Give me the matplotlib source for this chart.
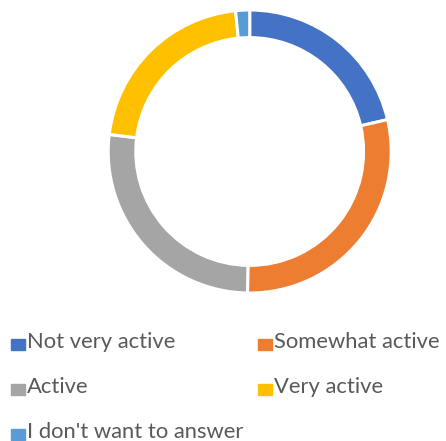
import matplotlib
matplotlib.use("Agg")
import matplotlib.pyplot as plt
from matplotlib.patches import Rectangle

categories = ["Not very active", "Somewhat active", "Active", "Very active",
              "I don't want to answer"]
shares = [21.4, 28.9, 26.7, 21.5, 1.6]
colors = ["#4472C4", "#ED7D31", "#A5A5A5", "#FFC000", "#5B9BD5"]

W, H = 446, 441
fig = plt.figure(figsize=(W / 100, H / 100), dpi=100)

# donut ring
cx, cy, r = 249.7, 151.5, 141.5
ax = fig.add_axes([(cx - r) / W, (H - cy - r) / H, 2 * r / W, 2 * r / H])
ax.pie(shares, colors=colors, startangle=90, counterclock=False, radius=1,
       wedgeprops=dict(width=0.195, edgecolor="white", linewidth=2.2))
ax.set_xlim(-1, 1)
ax.set_ylim(-1, 1)
ax.set_aspect("equal")
ax.axis("off")

# legend laid out in two columns, row by row
col_x = [11, 258]
baselines = [348, 393, 438]
for i, (lab, col) in enumerate(zip(categories, colors)):
    row, c = divmod(i, 2)
    x0 = col_x[c]
    yb = baselines[row]
    fig.patches.append(Rectangle((x0 / W, (H - yb - 2) / H), 14 / W, 11 / H,
                                 transform=fig.transFigure, color=col))
    fig.text((x0 + 16) / W, (H - yb) / H, lab, fontsize=15.8, family="Lato",
             color="#595959", va="baseline", ha="left")

fig.savefig("out.png", dpi=100)
